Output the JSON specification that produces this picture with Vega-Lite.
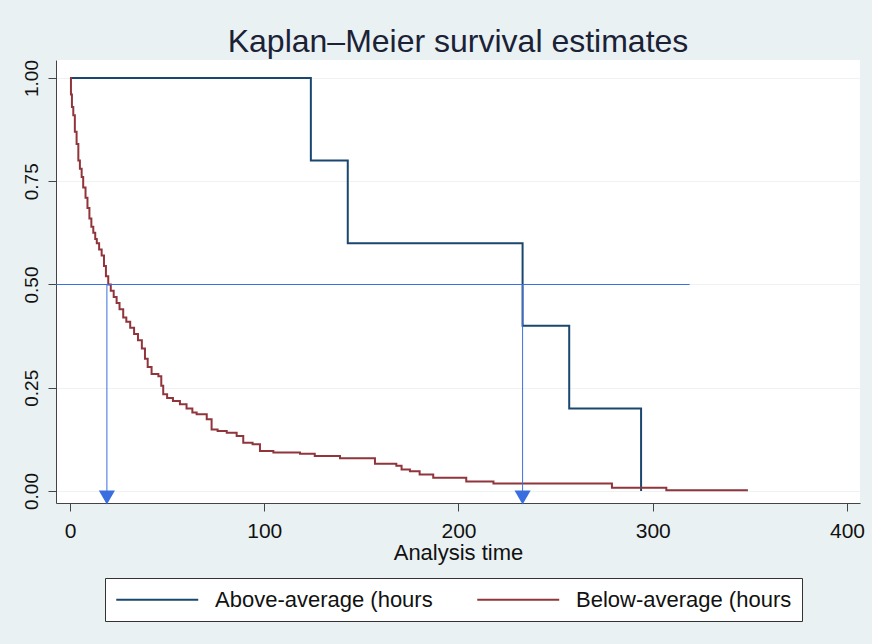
{
  "$schema": "https://vega.github.io/schema/vega-lite/v6.json",
  "width": 804,
  "height": 443,
  "autosize": {"type": "none"},
  "padding": {"left": 56, "top": 60, "right": 12, "bottom": 141},
  "background": "#e9f1f3",
  "view": {"fill": "white", "stroke": null},
  "config": {"font": "Liberation Sans"},
  "title": {"text": "Kaplan–Meier survival estimates", "fontSize": 32, "font": "Liberation Sans", "fontWeight": "normal", "color": "#1b2236", "anchor": "middle", "offset": 1},
  "datasets": {
    "km": [
      {"group": "Above-average (hours", "t": 0, "s": 1.0},
      {"group": "Above-average (hours", "t": 124, "s": 0.8},
      {"group": "Above-average (hours", "t": 143, "s": 0.6},
      {"group": "Above-average (hours", "t": 233, "s": 0.4},
      {"group": "Above-average (hours", "t": 257, "s": 0.2},
      {"group": "Above-average (hours", "t": 294, "s": 0.0},
      {"group": "Below-average (hours", "t": 0, "s": 1.0},
      {"group": "Below-average (hours", "t": 0.5, "s": 0.96},
      {"group": "Below-average (hours", "t": 1, "s": 0.93},
      {"group": "Below-average (hours", "t": 1.7, "s": 0.91},
      {"group": "Below-average (hours", "t": 2.5, "s": 0.87},
      {"group": "Below-average (hours", "t": 3.4, "s": 0.84},
      {"group": "Below-average (hours", "t": 4.3, "s": 0.8},
      {"group": "Below-average (hours", "t": 5.1, "s": 0.78},
      {"group": "Below-average (hours", "t": 6, "s": 0.76},
      {"group": "Below-average (hours", "t": 6.8, "s": 0.735},
      {"group": "Below-average (hours", "t": 8, "s": 0.71},
      {"group": "Below-average (hours", "t": 9, "s": 0.685},
      {"group": "Below-average (hours", "t": 10, "s": 0.66},
      {"group": "Below-average (hours", "t": 11, "s": 0.64},
      {"group": "Below-average (hours", "t": 12, "s": 0.625},
      {"group": "Below-average (hours", "t": 13, "s": 0.61},
      {"group": "Below-average (hours", "t": 13.8, "s": 0.6},
      {"group": "Below-average (hours", "t": 15, "s": 0.585},
      {"group": "Below-average (hours", "t": 16.3, "s": 0.57},
      {"group": "Below-average (hours", "t": 17.5, "s": 0.545},
      {"group": "Below-average (hours", "t": 18.5, "s": 0.52},
      {"group": "Below-average (hours", "t": 19.7, "s": 0.5},
      {"group": "Below-average (hours", "t": 21, "s": 0.485},
      {"group": "Below-average (hours", "t": 22.5, "s": 0.47},
      {"group": "Below-average (hours", "t": 24, "s": 0.455},
      {"group": "Below-average (hours", "t": 25.5, "s": 0.44},
      {"group": "Below-average (hours", "t": 27.4, "s": 0.42},
      {"group": "Below-average (hours", "t": 29, "s": 0.41},
      {"group": "Below-average (hours", "t": 31, "s": 0.395},
      {"group": "Below-average (hours", "t": 33, "s": 0.38},
      {"group": "Below-average (hours", "t": 35, "s": 0.365},
      {"group": "Below-average (hours", "t": 37, "s": 0.345},
      {"group": "Below-average (hours", "t": 38.6, "s": 0.32},
      {"group": "Below-average (hours", "t": 40, "s": 0.3},
      {"group": "Below-average (hours", "t": 42, "s": 0.283},
      {"group": "Below-average (hours", "t": 45.5, "s": 0.278},
      {"group": "Below-average (hours", "t": 47, "s": 0.255},
      {"group": "Below-average (hours", "t": 48, "s": 0.234},
      {"group": "Below-average (hours", "t": 50, "s": 0.225},
      {"group": "Below-average (hours", "t": 53, "s": 0.218},
      {"group": "Below-average (hours", "t": 56.6, "s": 0.21},
      {"group": "Below-average (hours", "t": 60, "s": 0.2},
      {"group": "Below-average (hours", "t": 63, "s": 0.19},
      {"group": "Below-average (hours", "t": 65.2, "s": 0.186},
      {"group": "Below-average (hours", "t": 70.4, "s": 0.174},
      {"group": "Below-average (hours", "t": 72.9, "s": 0.149},
      {"group": "Below-average (hours", "t": 76, "s": 0.145},
      {"group": "Below-average (hours", "t": 80.7, "s": 0.141},
      {"group": "Below-average (hours", "t": 85.8, "s": 0.133},
      {"group": "Below-average (hours", "t": 89.2, "s": 0.117},
      {"group": "Below-average (hours", "t": 94, "s": 0.113},
      {"group": "Below-average (hours", "t": 97.8, "s": 0.097},
      {"group": "Below-average (hours", "t": 104.7, "s": 0.093},
      {"group": "Below-average (hours", "t": 118.4, "s": 0.09},
      {"group": "Below-average (hours", "t": 126, "s": 0.085},
      {"group": "Below-average (hours", "t": 139, "s": 0.079},
      {"group": "Below-average (hours", "t": 157, "s": 0.066},
      {"group": "Below-average (hours", "t": 168, "s": 0.061},
      {"group": "Below-average (hours", "t": 170.7, "s": 0.052},
      {"group": "Below-average (hours", "t": 175, "s": 0.048},
      {"group": "Below-average (hours", "t": 180, "s": 0.04},
      {"group": "Below-average (hours", "t": 187, "s": 0.032},
      {"group": "Below-average (hours", "t": 204, "s": 0.023},
      {"group": "Below-average (hours", "t": 218, "s": 0.018},
      {"group": "Below-average (hours", "t": 279, "s": 0.008},
      {"group": "Below-average (hours", "t": 307, "s": 0.002},
      {"group": "Below-average (hours", "t": 349, "s": 0.002}
    ],
    "median": [
      {"x": -7.2, "x2": 319, "y": 0.5, "y2": 0.5},
      {"x": 19, "x2": 19, "y": 0.5, "y2": -0.017},
      {"x": 233, "x2": 233, "y": 0.5, "y2": -0.017}
    ],
    "arrows": [
      {"x": 19, "y": -0.016},
      {"x": 233, "y": -0.016}
    ]
  },
  "layer": [
    {
      "data": {"name": "km"},
      "mark": {"type": "line", "interpolate": "step-after", "strokeWidth": 2},
      "encoding": {
        "x": {
          "field": "t", "type": "quantitative",
          "scale": {"domain": [-7.2, 406.7], "nice": false, "zero": false},
          "axis": {
            "values": [0, 100, 200, 300, 400], "title": "Analysis time", "grid": false,
            "tickSize": 8, "labelFontSize": 21, "labelPadding": 9, "labelColor": "#111",
            "titleFontSize": 22, "titleFontWeight": "normal", "titleColor": "#111", "titlePadding": 1,
            "domainColor": "#444", "tickColor": "#444", "labelFont": "Liberation Sans", "titleFont": "Liberation Sans"
          }
        },
        "y": {
          "field": "s", "type": "quantitative",
          "scale": {"domain": [-0.02906, 1.04358], "nice": false, "zero": false},
          "axis": {
            "values": [0, 0.25, 0.5, 0.75, 1], "format": ".2f", "title": null,
            "labelAngle": -90, "labelAlign": "center", "labelBaseline": "bottom",
            "tickSize": 8, "labelFontSize": 19, "labelPadding": 7, "labelColor": "#111",
            "grid": true, "gridColor": "#eef2f3", "domainColor": "#444", "tickColor": "#444", "labelFont": "Liberation Sans"
          }
        },
        "color": {
          "field": "group", "type": "nominal",
          "scale": {"domain": ["Above-average (hours", "Below-average (hours"], "range": ["#1a476f", "#90353b"]},
          "legend": {
            "orient": "none", "legendX": 49, "legendY": 518, "direction": "horizontal", "title": null,
            "symbolType": "M -1 0 L 7 0", "symbolSize": 420, "symbolStrokeWidth": 2,
            "labelFontSize": 22, "labelFont": "Liberation Sans", "labelColor": "#111", "labelOffset": 77,
            "columnPadding": 40, "strokeColor": "#333", "fillColor": "white", "padding": 10, "labelLimit": 400
          }
        }
      }
    },
    {
      "data": {"name": "median"},
      "mark": {"type": "rule", "color": "#3a6ee0", "strokeWidth": 1},
      "encoding": {
        "x": {"field": "x", "type": "quantitative"},
        "x2": {"field": "x2"},
        "y": {"field": "y", "type": "quantitative"},
        "y2": {"field": "y2"}
      }
    },
    {
      "data": {"name": "arrows"},
      "mark": {"type": "point", "shape": "triangle-down", "filled": true, "size": 260, "color": "#3a6ee0", "opacity": 1},
      "encoding": {
        "x": {"field": "x", "type": "quantitative"},
        "y": {"field": "y", "type": "quantitative"}
      }
    }
  ]
}
